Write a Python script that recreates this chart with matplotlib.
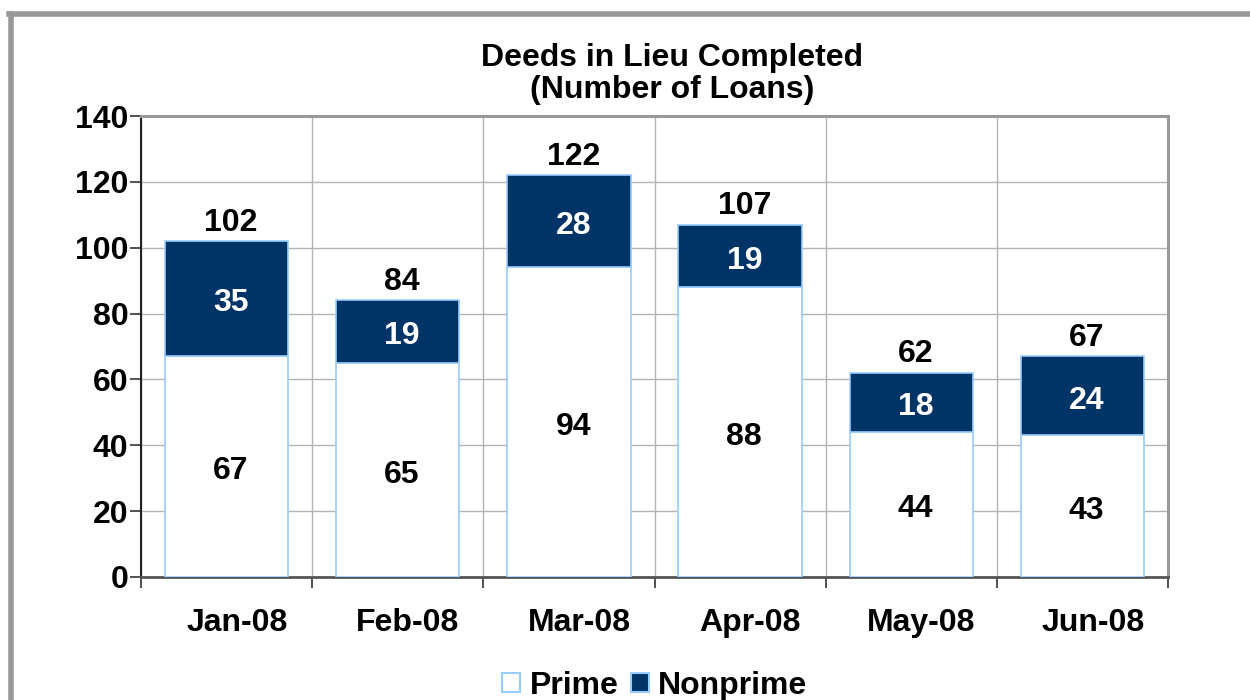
import matplotlib.pyplot as plt
from matplotlib.patches import Patch
from matplotlib.lines import Line2D

plt.rcParams['font.family'] = ['Liberation Sans', 'DejaVu Sans']
plt.rcParams['font.weight'] = 'bold'

# -----------------------------
# Datos
# -----------------------------

meses = ["Jan-08", "Feb-08", "Mar-08", "Apr-08", "May-08", "Jun-08"]
prime = [67, 65, 94, 88, 44, 43]
nonprime = [35, 19, 28, 19, 18, 24]
totales = [102, 84, 122, 107, 62, 67]

y_ticks = [0, 20, 40, 60, 80, 100, 120, 140]

color_prime = "white"
color_nonprime = "#003366"
color_borde = "#99ccff"

fs = 23

# -----------------------------
# Figura
# -----------------------------

fig = plt.figure(figsize=(12.5, 7), dpi=100)
ax = fig.add_axes([141 / 1250, 1 - 577 / 700, (1168 - 141) / 1250, (577 - 116) / 700])

x = list(range(len(meses)))
ancho = 0.72

ax.bar(x, prime, width=ancho, color=color_prime, edgecolor=color_borde, linewidth=1.2, zorder=3)
ax.bar(x, nonprime, width=ancho, bottom=prime, color=color_nonprime,
       edgecolor=color_borde, linewidth=1.2, zorder=3)

# pequenos ajustes para centrar visualmente los digitos como en el original
dx = 0.025
dy = 1.4
for i in x:
    ax.text(i + dx, prime[i] / 2 - dy, str(prime[i]), ha="center", va="center",
            fontsize=fs, fontweight="bold", color="black", zorder=4)
    ax.text(i + dx, prime[i] + nonprime[i] / 2 - dy, str(nonprime[i]), ha="center", va="center",
            fontsize=fs, fontweight="bold", color="white", zorder=4)
    ax.text(i + dx, totales[i] + 7 - dy, str(totales[i]), ha="center", va="center",
            fontsize=fs, fontweight="bold", color="black", zorder=4)

ax.set_xlim(-0.5, len(meses) - 0.5)
ax.set_ylim(0, 140)

# Ejes y rejilla
ax.set_yticks(y_ticks)
ax.set_yticklabels([str(v) for v in y_ticks], fontsize=fs, fontweight="bold")
ax.set_xticks([i - 0.5 for i in range(len(meses) + 1)])
ax.set_xticklabels([])
# las etiquetas de meses van algo desplazadas a la derecha en el original
ax.set_xticks([i + 0.06 for i in x], minor=True)
ax.set_xticklabels(meses, minor=True, fontsize=fs, fontweight="bold")
ax.tick_params(axis="x", which="minor", length=0, pad=22)
ax.tick_params(axis="x", which="major", length=8, width=1.2, color="#333333", direction="out")
ax.tick_params(axis="y", length=8, width=1.2, color="#333333", direction="out", pad=1)

ax.grid(True, which="major", color="#b3b3b3", linewidth=1.0, zorder=0)
ax.set_axisbelow(True)

ax.spines["left"].set_color("#222222")
ax.spines["left"].set_linewidth(1.5)
ax.spines["bottom"].set_color("#555555")
ax.spines["bottom"].set_linewidth(2.0)
ax.spines["top"].set_color("#999999")
ax.spines["top"].set_linewidth(2.2)
ax.spines["right"].set_color("#999999")
ax.spines["right"].set_linewidth(2.2)

# Titulo
fig.text(672 / 1250, 1 - 74 / 700, "Deeds in Lieu Completed\n(Number of Loans)",
         ha="center", va="center", fontsize=fs, fontweight="bold", linespacing=1.12)

# Leyenda
handles = [
    Patch(facecolor=color_prime, edgecolor=color_borde, linewidth=1.5, label="Prime"),
    Patch(facecolor=color_nonprime, edgecolor=color_borde, linewidth=1.5, label="Nonprime"),
]
fig.legend(handles=handles, loc="center", bbox_to_anchor=(655 / 1250, 1 - 686 / 700),
           ncol=2, frameon=False, handlelength=0.55, handleheight=0.55,
           handletextpad=0.3, columnspacing=0.4, prop={"weight": "bold", "size": fs})

# Marco gris de la figura
fig.add_artist(Line2D([10.5 / 1250, 10.5 / 1250], [0, 1 - 13.5 / 700],
                      transform=fig.transFigure, color="#999999", linewidth=4))
fig.add_artist(Line2D([8.5 / 1250, 1.0], [1 - 13.5 / 700, 1 - 13.5 / 700],
                      transform=fig.transFigure, color="#999999", linewidth=4))

fig.savefig("out.png", dpi=100)
